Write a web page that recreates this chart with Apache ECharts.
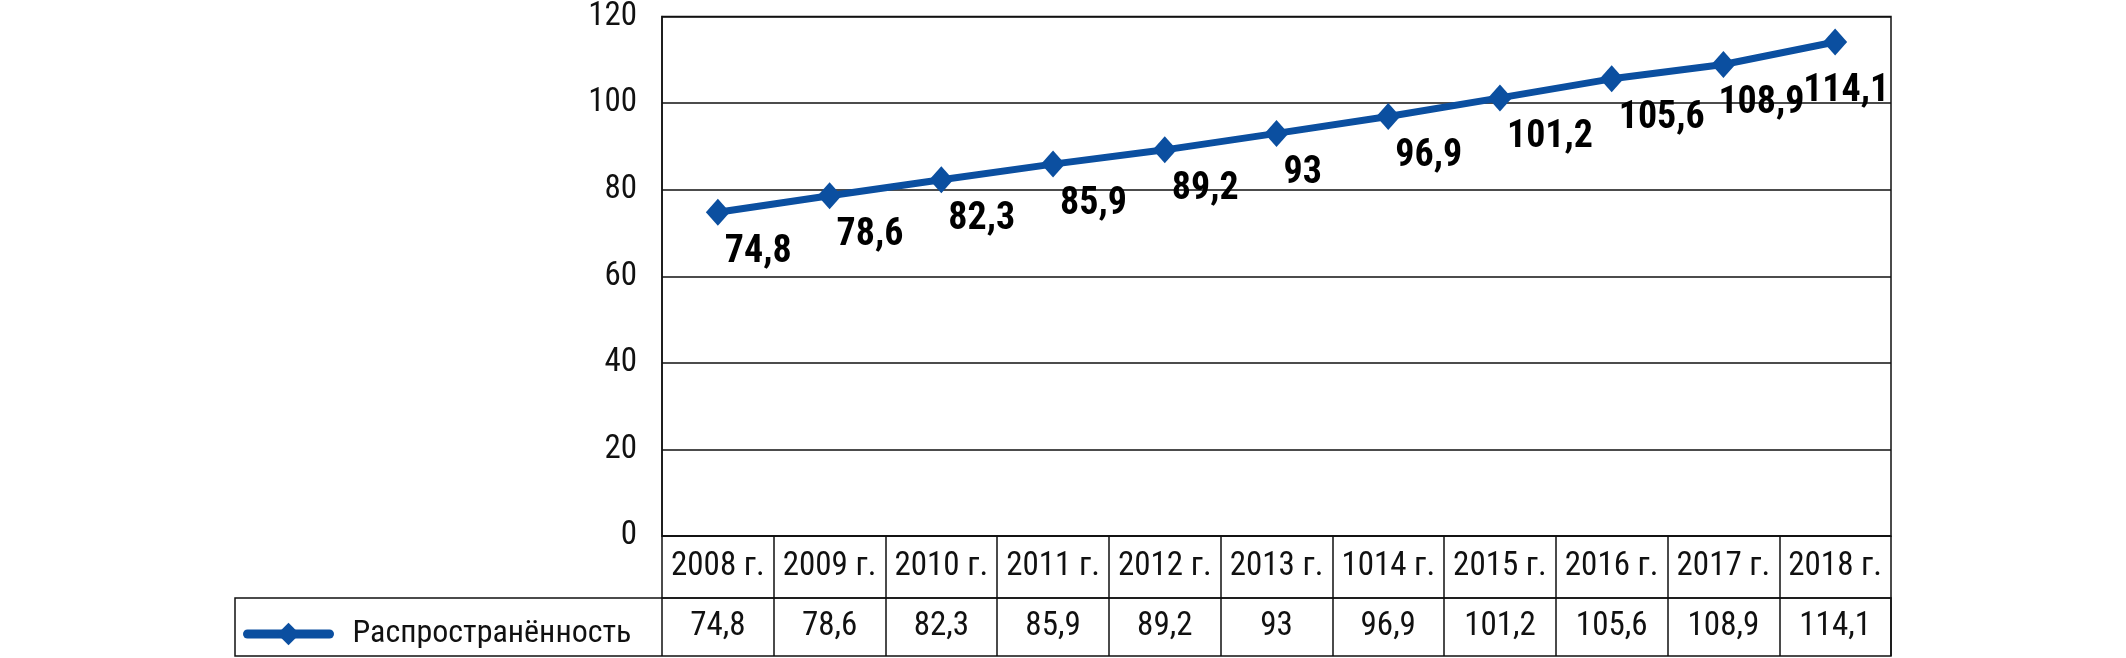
<!DOCTYPE html>
<html><head><meta charset="utf-8">
<script src="https://cdn.jsdelivr.net/npm/echarts@6/dist/echarts.min.js"></script>
<style>html,body{margin:0;padding:0;background:#fff}#c{width:2126px;height:658px}</style>
</head><body><div id="c"></div>
<script>
const categories = ['2008 г.','2009 г.','2010 г.','2011 г.','2012 г.','2013 г.','1014 г.','2015 г.','2016 г.','2017 г.','2018 г.'];
const seriesName = 'Распространённость';
const values = [74.8, 78.6, 82.3, 85.9, 89.2, 93, 96.9, 101.2, 105.6, 108.9, 114.1];
const yTicks = [0, 20, 40, 60, 80, 100, 120];

const FONT = '"Roboto Condensed","Open Sans Condensed",sans-serif';
const BLUE = '#0b4fa0';
const fmt = v => String(v).replace('.', ',');
const chart = echarts.init(document.getElementById('c'), null, {renderer:'canvas'});

const GL = 662, GR = 1891, GT = 13, GB = 536;
const ROW1 = 62, ROW2 = 58;

const labelOffsets = values.map((v, i) => i === values.length - 1 ? [-32, 49] : (i === values.length - 2 ? [-5, 39] : [7, 40]));

chart.setOption({
  animation: false,
  grid: {left: GL, right: 2126 - GR, top: GT, bottom: 658 - GB, show: true, borderColor: '#111', borderWidth: 1.5, backgroundColor: 'transparent'},
  legend: {
    data: [{name: seriesName, lineStyle: {width: 9, color: BLUE, cap: 'round'}, itemStyle: {color: BLUE}}],
    left: 238, top: 627 - 14, itemWidth: 82, itemHeight: 28,
    textStyle: {fontFamily: FONT, fontSize: 32, color: '#111', padding: [0,0,0,18]}
  },
  xAxis: [{
    type: 'category', data: categories, boundaryGap: true, position: 'bottom',
    axisLine: {show: true, lineStyle: {color: '#111', width: 1.5}},
    axisTick: {show: true, length: ROW1, lineStyle: {color: '#111', width: 1.5}},
    axisLabel: {fontFamily: FONT, fontSize: 33, color: '#111', margin: 14, interval: 0}
  }, {
    type: 'category', data: values.map(fmt), boundaryGap: true, position: 'bottom', offset: ROW1,
    axisLine: {show: true, lineStyle: {color: '#111', width: 1.5}},
    axisTick: {show: true, length: ROW2, lineStyle: {color: '#111', width: 1.5}},
    axisLabel: {fontFamily: FONT, fontSize: 33, color: '#111', margin: 12, interval: 0}
  }],
  yAxis: {
    type: 'value', min: yTicks[0], max: yTicks[yTicks.length - 1], interval: yTicks[1] - yTicks[0],
    axisLine: {show: true, lineStyle: {color: '#111', width: 1.5}},
    axisTick: {show: false},
    splitLine: {show: true, lineStyle: {color: '#111', width: 1.5}},
    axisLabel: {fontFamily: FONT, fontSize: 33, color: '#111', margin: 25}
  },
  graphic: [{
    type: 'rect', shape: {x: 235, y: GB + ROW1, width: GR - 235, height: ROW2},
    style: {fill: 'none', stroke: '#111', lineWidth: 1.5}, silent: true
  }],
  series: [{
    name: seriesName, type: 'line', xAxisIndex: 0,
    data: values.map((v, i) => ({value: v, label: {offset: labelOffsets[i]}})),
    symbol: 'diamond', symbolSize: [24, 27],
    lineStyle: {color: BLUE, width: 7}, itemStyle: {color: BLUE},
    label: {
      show: true, position: 'inside', align: 'left', verticalAlign: 'middle',
      fontFamily: FONT, fontWeight: 'bold', fontSize: 38, color: '#000',
      formatter: p => fmt(p.value)
    }
  }]
});
</script></body></html>
